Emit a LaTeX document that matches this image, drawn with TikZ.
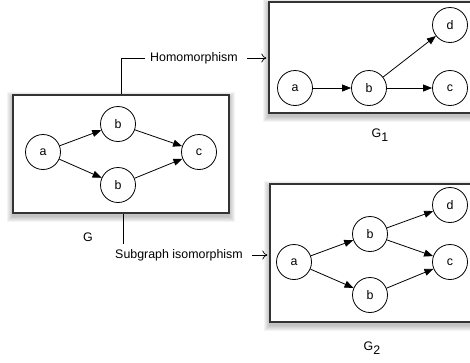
\documentclass[tikz,border=0pt]{standalone}
\usepackage{fontspec}
\setmainfont{Liberation Sans}
\usetikzlibrary{arrows.meta}
\newcommand\myshadow[4]{%
  \foreach \i in {1,...,6}{\fill[black,opacity=0.045] (#1-\i,#2+3-\i) rectangle (#3+\i,#4+3+\i);}}
\begin{document}
\begin{tikzpicture}[x=1pt,y=-1pt,
  every node/.style={font=\fontsize{12.4}{14}\selectfont},
  vtx/.style={circle,draw,line width=0.8pt,minimum size=35pt,inner sep=0pt,fill=white},
  edge/.style={-{Triangle[length=9pt,width=7pt]},line width=0.8pt},
  frame/.style={draw=black!80,line width=1.3pt,fill=white,inner sep=0pt},
  mapline/.style={line width=0.7pt},
  maparrow/.style={-{To[length=5pt,width=9pt]},line width=0.7pt},
  lbl/.style={inner sep=5pt}
]
\useasboundingbox (0,0) rectangle (470,362);
% shadows
\myshadow{13}{95}{229}{213}
\myshadow{269}{2}{480}{113}
\myshadow{270}{184}{480}{322}
% frames
\node[frame,minimum width=216pt,minimum height=118pt] (G) at (121,154) {};
\node[frame,minimum width=211pt,minimum height=111pt] (G1) at (374.5,57.5) {};
\node[frame,minimum width=210pt,minimum height=138pt] (G2) at (375,253) {};
% graph G
\node[vtx] (a) at (43,152) {a};
\node[vtx] (b1) at (118,124) {b};
\node[vtx] (b2) at (118,185) {b};
\node[vtx] (c) at (199,152) {c};
\draw[edge] (a) -- (b1);
\draw[edge] (a) -- (b2);
\draw[edge] (b1) -- (c);
\draw[edge] (b2) -- (c);
% graph G1
\node[vtx] (pa) at (295,88) {a};
\node[vtx] (pb) at (369,88) {b};
\node[vtx] (pc) at (450,88) {c};
\node[vtx] (pd) at (450,25) {d};
\draw[edge] (pa) -- (pb);
\draw[edge] (pb) -- (pc);
\draw[edge] (pb) -- (pd);
% graph G2
\node[vtx] (qa) at (294,262) {a};
\node[vtx] (qb1) at (370,234) {b};
\node[vtx] (qb2) at (370,295) {b};
\node[vtx] (qc) at (450,262) {c};
\node[vtx] (qd) at (450,205) {d};
\draw[edge] (qa) -- (qb1);
\draw[edge] (qa) -- (qb2);
\draw[edge] (qb1) -- (qc);
\draw[edge] (qb2) -- (qc);
\draw[edge] (qb1) -- (qd);
% labels
\node (gl) at (88,237) {G};
\node (g1l) at (380,135) {G\raisebox{-4pt}{1}};
\node (g2l) at (372,348) {G\raisebox{-4pt}{2}};
% mappings
\node[lbl] (hom) at (194,58) {Homomorphism};
\draw[mapline] (G.north) |- (hom.west);
\draw[maparrow,shorten <=4pt,shorten >=2pt] (hom.east) -- (hom.east -| G1.west);
\node[lbl] (sub) at (179,255) {Subgraph isomorphism};
\draw[mapline] ([xshift=2pt]G.south) -- ([xshift=2pt]G.south |- sub.north);
\draw[maparrow,shorten <=4pt,shorten >=2pt] (sub.east) -- (sub.east -| G2.west);
\end{tikzpicture}
\end{document}
